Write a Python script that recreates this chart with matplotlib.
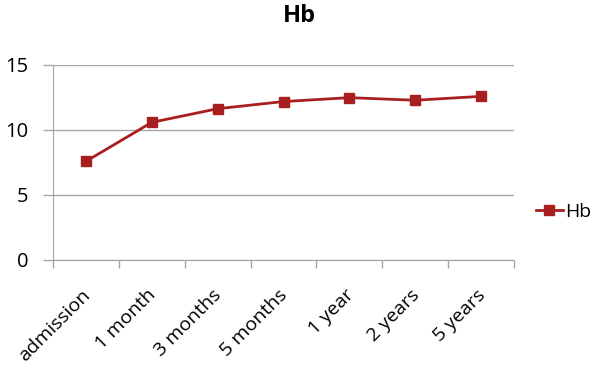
import matplotlib.pyplot as plt
import matplotlib.transforms as mtransforms
import numpy as np

plt.rcParams['font.family'] = ['Open Sans', 'DejaVu Sans']

categories = ['admission', '1 month', '3 months', '5 months', '1 year', '2 years', '5 years']
hb = [7.55, 10.55, 11.6, 12.15, 12.45, 12.25, 12.55]

red = '#A81F1F'
grey = '#A6A6A6'

fig = plt.figure(figsize=(5.94, 3.73), dpi=100)
ax = fig.add_axes([53/594, 1 - 259.5/373, (514 - 53)/594, 195/373])

x = np.arange(len(categories))
ax.plot(x, hb, color=red, marker='s', markersize=7, linewidth=2, label='Hb')

ax.set_xlim(-0.5, len(categories) - 0.5)
ax.set_ylim(0, 15)
ax.set_yticks([0, 5, 10, 15])
ax.yaxis.grid(True, color=grey, linewidth=1)
ax.set_axisbelow(True)

# category labels centred, tick marks on category borders (Excel style)
ax.set_xticks(x)
ax.set_xticklabels(categories, rotation=45, ha='right', rotation_mode='anchor', fontsize=14)
ax.tick_params(axis='x', which='major', length=0, pad=19)
shift = mtransforms.ScaledTranslation(-5/100, 0, fig.dpi_scale_trans)
for lbl in ax.get_xticklabels():
    lbl.set_transform(lbl.get_transform() + shift)
ax.set_xticks(np.arange(-0.5, len(categories)), minor=True)
ax.tick_params(axis='x', which='minor', length=6, color=grey, width=1)
ax.tick_params(axis='y', length=7.5, color=grey, width=1, labelsize=14.5, pad=10)

for s in ['top', 'right']:
    ax.spines[s].set_visible(False)
for s in ['left', 'bottom']:
    ax.spines[s].set_color(grey)

fig.text(299/594, 1 - 16/373, 'Hb', ha='center', va='center', fontsize=17, fontweight='bold')

fig.legend(loc='center left', bbox_to_anchor=(526/594, 1 - 212/373), frameon=False,
           fontsize=14, handlelength=1.4, handletextpad=0.1, borderpad=0)

plt.savefig('out.png', dpi=100)
